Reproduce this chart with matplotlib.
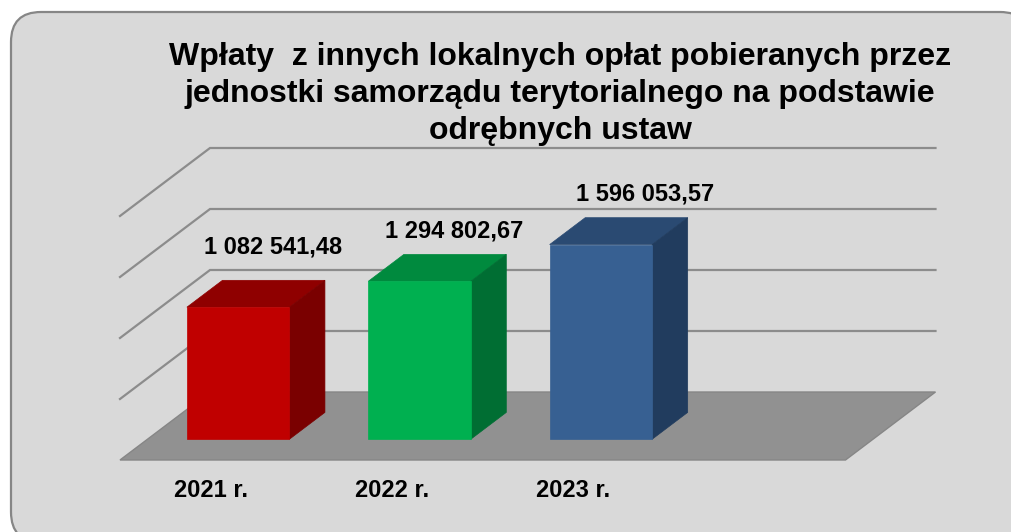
import matplotlib
matplotlib.use("Agg")
import matplotlib.pyplot as plt
from matplotlib.patches import Polygon, FancyBboxPatch
from matplotlib.transforms import IdentityTransform

# ---- data ----
years = ["2021 r.", "2022 r.", "2023 r."]
values = [1082541.48, 1294802.67, 1596053.57]
value_labels = ["1 082 541,48", "1 294 802,67", "1 596 053,57"]
gridlines = [500000, 1000000, 1500000, 2000000]
title = ("Wpłaty  z innych lokalnych opłat pobieranych przez\n"
         "jednostki samorządu terytorialnego na podstawie\n"
         "odrębnych ustaw")
front_colors = ["#C00000", "#00B050", "#376092"]
top_colors = ["#8F0000", "#008A3E", "#2A4A72"]
side_colors = ["#7A0000", "#006E33", "#213C5E"]
label_offsets = [(-1, 27), (-1, 17), (9, 17)]

W, H = 1011, 532
plt.rcParams["font.family"] = ["Liberation Sans", "DejaVu Sans"]
fig = plt.figure(figsize=(W / 100, H / 100), dpi=100, facecolor="white")

# rounded panel, in figure pixels (runs past the right and bottom edges)
panel = FancyBboxPatch((11 + 30, H - 542 + 30), 1030 - 11 - 60, 542 - 12 - 60,
                       boxstyle="round,pad=30,rounding_size=30",
                       transform=IdentityTransform(), facecolor="#D9D9D9",
                       edgecolor="#868686", linewidth=1.6, zorder=0)
fig.add_artist(panel)

# plot box: front plane of the oblique chart
x0, x1, y_base, y_top = 120, 845.5, 460, 460 - 244
ax = fig.add_axes([x0 / W, 1 - y_base / H, (x1 - x0) / W, (y_base - y_top) / H])
ax.set_xlim(-0.5, 3.5)
ax.set_ylim(0, 2000000)
ax.axis("off")
ax.patch.set_alpha(0)

# depth vector of the full floor, in data units
DX = 90 / ((x1 - x0) / 4)
DY = 68 / ((y_base - y_top) / 2000000)


def proj(x, v, d):
    return (x + DX * d, v + DY * d)


def face(points, **kw):
    ax.add_patch(Polygon([proj(*p) for p in points], closed=True, clip_on=False, **kw))


# floor
face([(-0.5, 0, 0), (3.5, 0, 0), (3.5, 0, 1), (-0.5, 0, 1)],
     facecolor="#919191", edgecolor="#868686", linewidth=1, zorder=1)

# gridlines along side and back walls
for g in gridlines:
    pts = [proj(-0.5, g, 0), proj(-0.5, g, 1), proj(3.5, g, 1)]
    ax.plot(*zip(*pts), color="#8C8C8C", linewidth=1.6, clip_on=False, zorder=1,
            solid_joinstyle="miter")

# bars
bw, d0, d1 = 0.565, 0.305, 0.70
for i, v in enumerate(values):
    l, r = i - bw / 2, i + bw / 2
    face([(l, v, d0), (r, v, d0), (r, v, d1), (l, v, d1)], facecolor=top_colors[i],
         edgecolor=top_colors[i], linewidth=0.5, zorder=2)
    face([(r, 0, d0), (r, v, d0), (r, v, d1), (r, 0, d1)], facecolor=side_colors[i],
         edgecolor=side_colors[i], linewidth=0.5, zorder=2)
    face([(l, 0, d0), (r, 0, d0), (r, v, d0), (l, v, d0)], facecolor=front_colors[i],
         edgecolor=front_colors[i], linewidth=0.5, zorder=3)
    lx, ly = proj(i, v, d1)
    ax.annotate(value_labels[i], (lx, ly), xytext=label_offsets[i], textcoords="offset pixels",
                ha="center", va="baseline", fontsize=17, fontweight="bold",
                color="black", zorder=5, annotation_clip=False)
    ax.annotate(years[i], (i, 0), xytext=(0, -37), textcoords="offset pixels",
                ha="center", va="baseline", fontsize=17, fontweight="bold",
                color="black", annotation_clip=False)

fig.text(560 / W, 1 - 94 / H, title, ha="center", va="center", fontsize=23,
         fontweight="bold", color="black", linespacing=1.3)

fig.savefig("out.png", dpi=100, facecolor="white")
